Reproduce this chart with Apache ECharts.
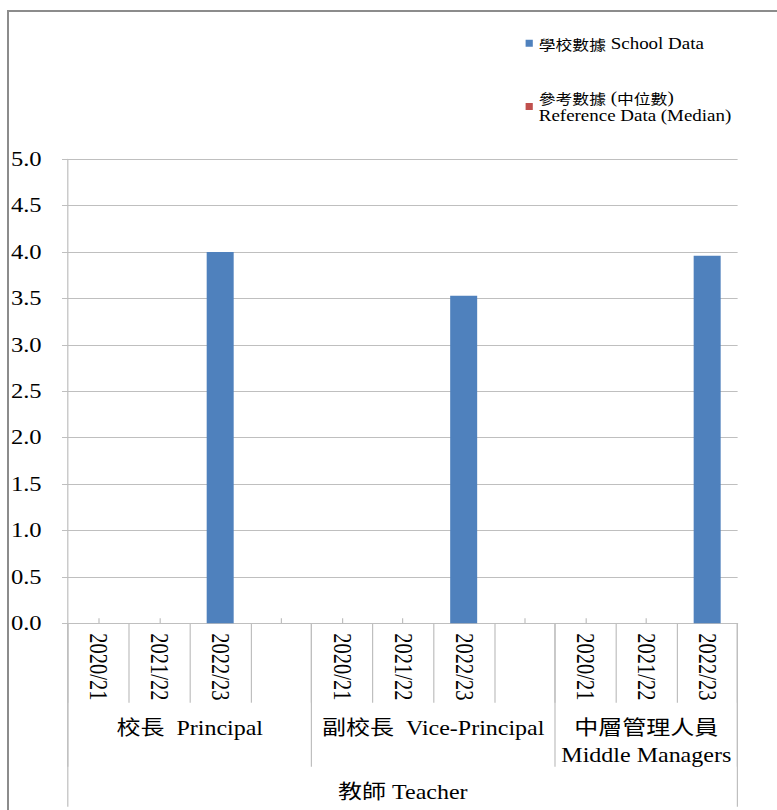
<!DOCTYPE html>
<html>
<head>
<meta charset="utf-8">
<script src="https://cdn.jsdelivr.net/npm/echarts@6/dist/echarts.min.js"></script>
<style>
  html, body { margin: 0; padding: 0; background: #fff; overflow: hidden; }
  /* outer frame of the chart area (left and top edges) */
  #frame { position: absolute; left: 7px; top: 10px; width: 820px; height: 830px;
           border-left: 2px solid #8c8c8c; border-top: 2px solid #8c8c8c; box-sizing: border-box; }
  /* chart is laid out narrower and widened 1.2x horizontally */
  #chart { position: absolute; left: 0; top: 0; width: 647.5px; height: 810px;
           transform: scaleX(1.2); transform-origin: 0 0; }
</style>
</head>
<body>
<div id="frame"></div>
<div id="chart"></div>
<script>
// ---- data ----
const years = ['2020/21', '2021/22', '2022/23', '',
               '2020/21', '2021/22', '2022/23', '',
               '2020/21', '2021/22', '2022/23'];
const schoolData    = [null, null, 4.0, null, null, null, 3.53, null, null, null, 3.96];
const referenceData = [null, null, null, null, null, null, null, null, null, null, null];
const roles = ['校長  Principal', '副校長  Vice-Principal', '中層管理人員\nMiddle Managers'];
const roleStart = [0, 4, 8];          // first category slot of each role group
const roleEnd   = [4, 8, 11];         // slot after the last one
const staffGroup = '教師 Teacher';
const seriesNames = ['學校數據 School Data', '參考數據 (中位數)\nReference Data (Median)'];
const yMin = 0, yMax = 5, yStep = 0.5;

// ---- helpers ----
const FONT = "'Liberation Serif', 'Noto Sans CJK TC', serif";
const CJK_FONT = "'Noto Sans CJK TC', sans-serif";
const GRID_GRAY = '#bfbfbf';
const nSlots = years.length;

// half-slot positions (0..2*nSlots) used to centre the group labels
const halfPositions = Array.from({ length: 2 * nSlots + 1 }, () => '');
const roleLabels = halfPositions.slice();
roles.forEach((r, i) => { roleLabels[roleStart[i] + roleEnd[i]] = r; });
const staffLabels = halfPositions.slice();
staffLabels[0 + nSlots] = staffGroup;

const hiddenAxisBase = {
  type: 'category', position: 'bottom', gridIndex: 0,
  axisLine: { show: false }, splitLine: { show: false }
};

const chart = echarts.init(document.getElementById('chart'), null, { renderer: 'svg' });
chart.setOption({
  animation: false,
  backgroundColor: 'transparent',
  legend: {
    orient: 'vertical', left: 433, top: 29,
    itemWidth: 6, itemHeight: 7, itemGap: 35.5, icon: 'rect',
    selectedMode: false,
    formatter: (name) => name.replace(/([\u3400-\u9fff]+)/g, '{c|$1}'),
    textStyle: {
      fontFamily: FONT, fontSize: 15.8, lineHeight: 18.5, color: '#000',
      rich: { c: { fontFamily: CJK_FONT, fontSize: 14, lineHeight: 18.5, color: '#000' } }
    },
    data: seriesNames
  },
  grid: { left: 56.67, right: 33.33, top: 159.3, bottom: 186.7, containLabel: false, outerBoundsMode: 'none' },
  xAxis: [
    { // years
      type: 'category', position: 'bottom', data: years,
      axisLine: { show: true, lineStyle: { color: GRID_GRAY, width: 1 } },
      axisTick: { show: true, inside: true, alignWithLabel: true, interval: 0, length: 5,
                  lineStyle: { color: GRID_GRAY } },
      axisLabel: { interval: 0, rotate: -90, margin: 10, color: '#000',
                   fontFamily: FONT, fontSize: 20.5 },
      splitLine: { show: false }
    },
    Object.assign({}, hiddenAxisBase, { // separators between years
      data: years,
      axisTick: { show: true, interval: 0, length: 79.4, lineStyle: { color: GRID_GRAY } },
      axisLabel: { show: false }
    }),
    Object.assign({}, hiddenAxisBase, { // separators between role groups
      data: years,
      axisTick: { show: true, interval: (idx) => roleStart.includes(idx), length: 143.4,
                  lineStyle: { color: GRID_GRAY } },
      axisLabel: { show: false }
    }),
    Object.assign({}, hiddenAxisBase, { // outer edges of the staff group
      data: years,
      axisTick: { show: true, interval: (idx) => idx === 0, length: 183.4,
                  lineStyle: { color: GRID_GRAY } },
      axisLabel: { show: false }
    }),
    Object.assign({}, hiddenAxisBase, { // role names
      data: roleLabels, boundaryGap: false,
      axisTick: { show: false },
      axisLabel: { interval: 0, margin: 92, color: '#000', fontFamily: FONT,
                   fontSize: 20, lineHeight: 26.5, align: 'center' }
    }),
    Object.assign({}, hiddenAxisBase, { // staff group name
      data: staffLabels, boundaryGap: false,
      axisTick: { show: false },
      axisLabel: { interval: 0, margin: 156, color: '#000', fontFamily: FONT,
                   fontSize: 20, lineHeight: 25, align: 'center' }
    })
  ],
  yAxis: {
    type: 'value', min: yMin, max: yMax, interval: yStep,
    axisLine: { show: true, lineStyle: { color: GRID_GRAY, width: 1 } },
    axisTick: { show: true, length: 5, lineStyle: { color: GRID_GRAY } },
    splitLine: { show: true, lineStyle: { color: GRID_GRAY, width: 1 } },
    axisLabel: { margin: 22, color: '#000', fontFamily: FONT, fontSize: 20.5,
                 formatter: (v) => v.toFixed(1) }
  },
  series: [
    { name: seriesNames[0], type: 'bar', xAxisIndex: 0, data: schoolData,
      barWidth: 22.5, barGap: '-100%', itemStyle: { color: '#4F81BD' } },
    { name: seriesNames[1], type: 'bar', xAxisIndex: 0, data: referenceData,
      barWidth: 22.5, barGap: '-100%', itemStyle: { color: '#C0504D' } }
  ]
});
</script>
</body>
</html>
